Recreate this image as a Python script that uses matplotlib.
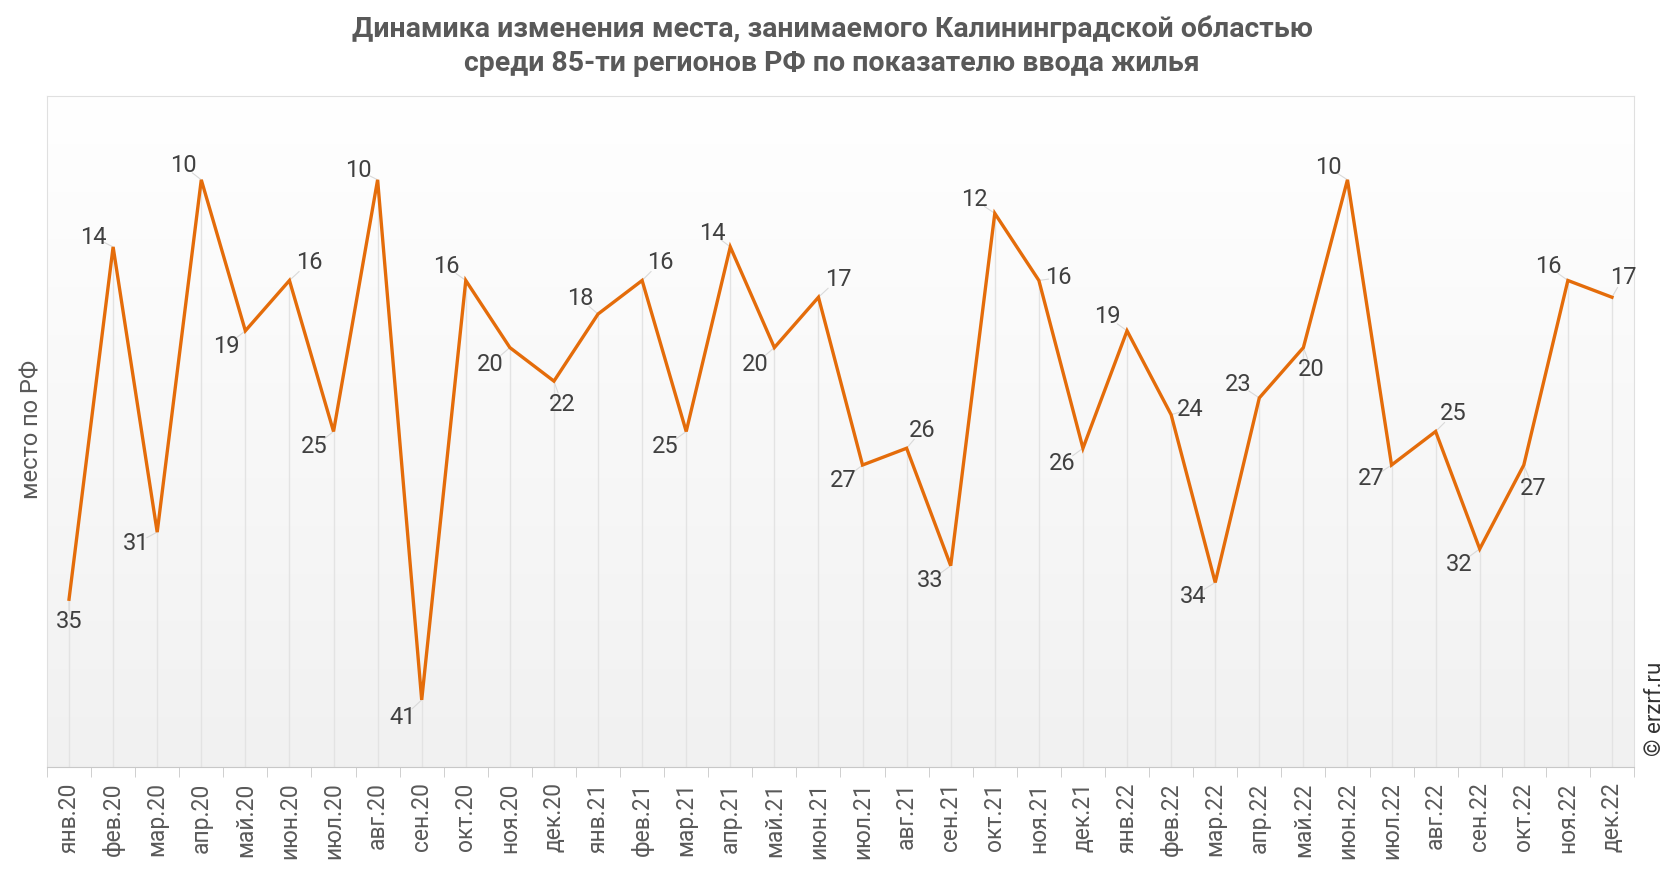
import matplotlib.pyplot as plt
import numpy as np

plt.rcParams['font.family'] = ['Roboto', 'DejaVu Sans']

# Месяцы и место Калининградской области среди 85 регионов
months = ['янв.20', 'фев.20', 'мар.20', 'апр.20', 'май.20', 'июн.20',
          'июл.20', 'авг.20', 'сен.20', 'окт.20', 'ноя.20', 'дек.20',
          'янв.21', 'фев.21', 'мар.21', 'апр.21', 'май.21', 'июн.21',
          'июл.21', 'авг.21', 'сен.21', 'окт.21', 'ноя.21', 'дек.21',
          'янв.22', 'фев.22', 'мар.22', 'апр.22', 'май.22', 'июн.22',
          'июл.22', 'авг.22', 'сен.22', 'окт.22', 'ноя.22', 'дек.22']
rank = [35, 14, 31, 10, 19, 16, 25, 10, 41, 16, 20, 22,
        18, 16, 25, 14, 20, 17, 27, 26, 33, 12, 16, 26,
        19, 24, 34, 23, 20, 10, 27, 25, 32, 27, 16, 17]

# label offsets (points) from each point, picked by eye
label_off = [(0, -16), (-14, 7), (-15, -8), (-13, 10), (-14, -11), (14, 13),
             (-14, -11), (-14, 7), (-14, -13), (-14, 10), (-14, -12), (6, -17),
             (-13, 11), (13, 13), (-15, -11), (-13, 10), (-14, -12), (14, 13),
             (-14, -11), (11, 13), (-15, -11), (-15, 10), (14, 2), (-15, -11),
             (-14, 10), (14, 4), (-16, -10), (-15, 10), (6, -16), (-14, 9),
             (-15, -10), (13, 13), (-15, -11), (7, -17), (-14, 10), (8, 14)]

x = np.arange(len(months))
orange = '#E46C0A'

fig = plt.figure(figsize=(16.66, 8.72), dpi=100)
ax = fig.add_axes([0.0282, 0.1204, 0.9526, 0.7696])

ax.set_xlim(-0.5, len(months) - 0.5)
ax.set_ylim(45, 5)

# gradient background white -> light grey
grad = np.linspace(1.0, 0.945, 256).reshape(-1, 1)
ax.imshow(np.dstack([grad, grad, grad]), extent=[-0.5, len(months) - 0.5, 45, 5],
          aspect='auto', zorder=0, interpolation='bicubic')

# drop lines from each point to the bottom
ax.vlines(x, rank, 45, color='#e3e3e3', lw=1, zorder=1)

ax.plot(x, rank, color=orange, lw=2.4, zorder=3, solid_joinstyle='miter')

for xi, v, (dx, dy) in zip(x, rank, label_off):
    ax.annotate(str(v), (xi, v), xytext=(dx, dy), textcoords='offset points',
                ha='center', va='center', fontsize=17, color='#404040', zorder=4)
    ax.annotate('', (xi, v), xytext=(dx * 0.5, dy * 0.5), textcoords='offset points',
                arrowprops=dict(arrowstyle='-', color='#d9d9d9', lw=0.8,
                                shrinkA=0, shrinkB=0), zorder=2)

ax.set_xticks(x)
ax.set_xticklabels(months, rotation=90, fontsize=16.5, color='#595959')
ax.set_xticks(np.arange(-0.5, len(months)), minor=True)
ax.tick_params(axis='x', which='major', length=0, pad=11)
ax.tick_params(axis='x', which='minor', length=7, color='#c8c8c8')
ax.set_yticks([])

for side in ['left', 'top', 'right']:
    ax.spines[side].set_color('#e0e0e0')
ax.spines['bottom'].set_color('#c8c8c8')

fig.text(0.0192, 0.507, 'место по РФ', rotation=90, ha='center', va='center',
         fontsize=17, color='#595959')

fig.text(0.4995, 0.947,
         'Динамика изменения места, занимаемого Калининградской областью\n'
         'среди 85-ти регионов РФ по показателю ввода жилья',
         ha='center', va='center', fontsize=20.5, fontweight='bold',
         color='#595959', linespacing=1.3)

fig.text(0.9935, 0.187, '© erzrf.ru', rotation=90, ha='center', va='center',
         fontsize=16, color='#333333')

fig.savefig('out.png', dpi=100)
